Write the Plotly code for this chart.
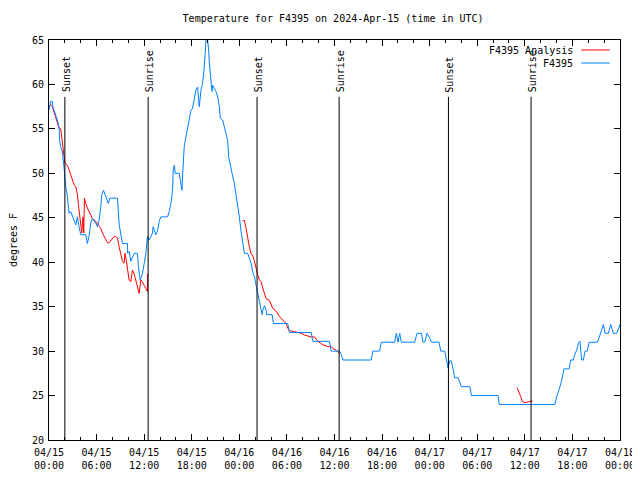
import plotly.graph_objects as go
import pandas as pd

TITLE = "Temperature for F4395 on 2024-Apr-15 (time in UTC)"
Y_LABEL = "degrees F"
OBS_NAME = "F4395"
ANL_NAME = "F4395 Analysis"

# Observed temperatures (F4395)
obs_time = [
    "2024-04-15 00:00", "2024-04-15 00:13", "2024-04-15 00:25", "2024-04-15 00:30", "2024-04-15 00:38",
    "2024-04-15 00:51", "2024-04-15 01:03", "2024-04-15 01:16", "2024-04-15 01:21", "2024-04-15 01:29",
    "2024-04-15 01:41", "2024-04-15 01:54", "2024-04-15 02:01", "2024-04-15 02:07", "2024-04-15 02:19",
    "2024-04-15 02:26", "2024-04-15 02:32", "2024-04-15 02:44", "2024-04-15 02:57", "2024-04-15 03:10",
    "2024-04-15 03:23", "2024-04-15 03:35", "2024-04-15 03:47", "2024-04-15 04:00", "2024-04-15 04:38",
    "2024-04-15 04:50", "2024-04-15 05:03", "2024-04-15 05:16", "2024-04-15 05:28", "2024-04-15 05:54",
    "2024-04-15 06:06", "2024-04-15 06:19", "2024-04-15 06:32", "2024-04-15 06:39", "2024-04-15 06:52",
    "2024-04-15 07:04", "2024-04-15 07:17", "2024-04-15 07:29", "2024-04-15 07:40", "2024-04-15 08:38",
    "2024-04-15 08:51", "2024-04-15 09:03", "2024-04-15 09:16", "2024-04-15 09:54", "2024-04-15 09:55",
    "2024-04-15 10:06", "2024-04-15 10:19", "2024-04-15 10:44", "2024-04-15 11:09", "2024-04-15 11:17",
    "2024-04-15 11:30", "2024-04-15 11:47", "2024-04-15 12:00", "2024-04-15 12:13", "2024-04-15 12:25",
    "2024-04-15 12:38", "2024-04-15 12:51", "2024-04-15 13:03", "2024-04-15 13:08", "2024-04-15 13:16",
    "2024-04-15 13:28", "2024-04-15 13:41", "2024-04-15 13:54", "2024-04-15 14:06", "2024-04-15 14:57",
    "2024-04-15 15:10", "2024-04-15 15:22", "2024-04-15 15:35", "2024-04-15 15:40", "2024-04-15 15:48",
    "2024-04-15 15:55", "2024-04-15 16:25", "2024-04-15 16:38", "2024-04-15 16:46", "2024-04-15 16:50",
    "2024-04-15 17:03", "2024-04-15 17:16", "2024-04-15 17:28", "2024-04-15 17:41", "2024-04-15 17:54",
    "2024-04-15 18:06", "2024-04-15 18:19", "2024-04-15 18:32", "2024-04-15 18:44", "2024-04-15 18:57",
    "2024-04-15 19:10", "2024-04-15 19:22", "2024-04-15 19:35", "2024-04-15 19:42", "2024-04-15 19:48",
    "2024-04-15 20:00", "2024-04-15 20:08", "2024-04-15 20:13", "2024-04-15 20:26", "2024-04-15 20:33",
    "2024-04-15 20:38", "2024-04-15 20:51", "2024-04-15 21:04", "2024-04-15 21:16", "2024-04-15 21:29",
    "2024-04-15 21:36", "2024-04-15 21:54", "2024-04-15 22:07", "2024-04-15 22:19", "2024-04-15 22:32",
    "2024-04-15 22:39", "2024-04-15 22:50", "2024-04-15 23:05", "2024-04-15 23:22", "2024-04-15 23:35",
    "2024-04-15 23:47", "2024-04-16 00:00", "2024-04-16 00:13", "2024-04-16 00:25", "2024-04-16 00:38",
    "2024-04-16 01:03", "2024-04-16 01:16", "2024-04-16 01:29", "2024-04-16 01:41", "2024-04-16 01:54",
    "2024-04-16 02:07", "2024-04-16 02:19", "2024-04-16 02:32", "2024-04-16 02:37", "2024-04-16 02:45",
    "2024-04-16 02:53", "2024-04-16 02:57", "2024-04-16 03:10", "2024-04-16 03:23", "2024-04-16 03:27",
    "2024-04-16 04:08", "2024-04-16 04:18", "2024-04-16 06:06", "2024-04-16 06:19", "2024-04-16 09:04",
    "2024-04-16 09:16", "2024-04-16 11:22", "2024-04-16 11:35", "2024-04-16 12:38", "2024-04-16 12:51",
    "2024-04-16 13:03", "2024-04-16 16:38", "2024-04-16 16:50", "2024-04-16 17:41", "2024-04-16 17:54",
    "2024-04-16 19:35", "2024-04-16 19:48", "2024-04-16 20:00", "2024-04-16 20:13", "2024-04-16 20:26",
    "2024-04-16 22:07", "2024-04-16 22:24", "2024-04-16 22:58", "2024-04-16 23:10", "2024-04-16 23:23",
    "2024-04-16 23:40", "2024-04-17 00:00", "2024-04-17 00:13", "2024-04-17 01:11", "2024-04-17 01:24",
    "2024-04-17 01:54", "2024-04-17 02:06", "2024-04-17 02:19", "2024-04-17 02:32", "2024-04-17 02:44",
    "2024-04-17 02:57", "2024-04-17 03:10", "2024-04-17 03:35", "2024-04-17 03:48", "2024-04-17 04:00",
    "2024-04-17 05:04", "2024-04-17 05:16", "2024-04-17 08:38", "2024-04-17 08:46", "2024-04-17 15:48",
    "2024-04-17 16:01", "2024-04-17 16:26", "2024-04-17 16:39", "2024-04-17 16:56", "2024-04-17 17:36",
    "2024-04-17 17:47", "2024-04-17 18:07", "2024-04-17 18:20", "2024-04-17 18:32", "2024-04-17 18:45",
    "2024-04-17 18:57", "2024-04-17 19:10", "2024-04-17 19:23", "2024-04-17 19:35", "2024-04-17 19:53",
    "2024-04-17 20:06", "2024-04-17 21:09", "2024-04-17 21:24", "2024-04-17 21:34", "2024-04-17 21:54",
    "2024-04-17 22:07", "2024-04-17 22:32", "2024-04-17 22:50", "2024-04-17 23:10", "2024-04-17 23:36",
    "2024-04-18 00:00",
]
obs_temp = [
    57.1, 58.1, 58.1, 57.4, 57.1,
    56.6, 56.0, 55.2, 53.6, 53.0,
    52.4, 50.6, 49.1, 48.5, 47.4,
    46.3, 45.5, 45.7, 45.1, 44.7,
    44.2, 45.1, 44.0, 43.1, 43.1,
    42.1, 42.9, 44.4, 44.9, 44.4,
    44.0, 44.7, 46.3, 47.6, 48.1,
    47.6, 47.2, 46.6, 47.2, 47.2,
    44.2, 43.3, 42.1, 42.1, 41.0,
    41.2, 40.1, 41.0, 41.0, 39.5,
    38.0, 38.7, 40.0, 41.0, 42.9,
    42.5, 42.9, 43.3, 44.0, 43.6,
    43.1, 43.5, 44.6, 45.1, 45.1,
    45.7, 46.6, 48.1, 50.4, 50.9,
    50.0, 50.0, 48.9, 48.1, 49.6,
    53.0, 54.1, 55.2, 56.0, 57.1,
    57.3, 58.4, 59.4, 59.7, 57.5,
    59.4, 60.1, 62.0, 63.9, 65.0,
    65.0, 63.9, 62.4, 60.1, 59.2,
    59.9, 59.6, 59.2, 58.6, 57.5,
    56.2, 56.0, 55.2, 54.5, 53.7,
    51.9, 50.9, 50.0, 48.9, 47.7,
    46.6, 45.1, 43.5, 42.1, 41.0,
    41.0, 40.4, 39.9, 38.9, 38.4,
    37.4, 36.5, 35.7, 35.0, 34.6,
    34.1, 34.6, 35.1, 34.6, 34.1,
    34.1, 33.1, 33.1, 32.1, 32.1,
    31.1, 31.1, 30.0, 30.0, 29.6,
    29.0, 29.0, 30.0, 30.0, 31.0,
    31.0, 32.0, 31.0, 32.0, 31.0,
    31.0, 32.0, 32.0, 31.0, 31.0,
    32.0, 31.5, 31.0, 31.0, 30.0,
    30.0, 29.2, 28.1, 28.9, 28.9,
    28.0, 27.0, 27.0, 26.5, 26.0,
    26.0, 25.0, 25.0, 24.0, 24.0,
    24.9, 26.0, 26.7, 28.0, 28.0,
    29.0, 29.0, 29.7, 30.1, 30.9,
    31.1, 29.0, 29.0, 30.0, 30.0,
    31.0, 31.0, 31.6, 32.0, 33.0,
    32.0, 32.0, 33.0, 32.0, 32.0,
    33.0,
]

# Analysis temperatures (F4395 Analysis), three separate runs
anl1_time = [
    "2024-04-15 00:00", "2024-04-15 00:13", "2024-04-15 00:25", "2024-04-15 00:38", "2024-04-15 00:51",
    "2024-04-15 01:03", "2024-04-15 01:16", "2024-04-15 01:29", "2024-04-15 01:36", "2024-04-15 01:46",
    "2024-04-15 01:54", "2024-04-15 02:01", "2024-04-15 02:19", "2024-04-15 02:32", "2024-04-15 02:44",
    "2024-04-15 02:57", "2024-04-15 03:10", "2024-04-15 03:23", "2024-04-15 03:35", "2024-04-15 03:43",
    "2024-04-15 03:53", "2024-04-15 04:00", "2024-04-15 04:08", "2024-04-15 04:13", "2024-04-15 04:18",
    "2024-04-15 04:23", "2024-04-15 04:28", "2024-04-15 04:38", "2024-04-15 04:50", "2024-04-15 05:16",
    "2024-04-15 05:28", "2024-04-15 05:54", "2024-04-15 06:19", "2024-04-15 06:32", "2024-04-15 06:44",
    "2024-04-15 07:09", "2024-04-15 07:22", "2024-04-15 07:35", "2024-04-15 08:00", "2024-04-15 08:13",
    "2024-04-15 08:25", "2024-04-15 08:38", "2024-04-15 08:51", "2024-04-15 09:03", "2024-04-15 09:16",
    "2024-04-15 09:28", "2024-04-15 09:35", "2024-04-15 09:45", "2024-04-15 09:53", "2024-04-15 10:06",
    "2024-04-15 10:19", "2024-04-15 10:31", "2024-04-15 10:44", "2024-04-15 10:57", "2024-04-15 11:09",
    "2024-04-15 11:22", "2024-04-15 11:35", "2024-04-15 11:47", "2024-04-15 12:00", "2024-04-15 12:13",
    "2024-04-15 12:25", "2024-04-15 12:26",
]
anl1_temp = [
    57.5, 57.7, 57.5, 56.9, 56.4,
    55.8, 55.1, 55.0, 53.9, 53.2,
    51.9, 51.1, 50.9, 50.4, 49.8,
    49.2, 48.7, 48.5, 47.6, 46.4,
    45.1, 44.4, 43.3, 44.4, 45.1,
    43.3, 47.2, 46.6, 46.1, 45.3,
    44.9, 44.6, 44.0, 43.8, 43.3,
    42.5, 42.2, 42.2, 42.6, 42.9,
    42.9, 42.7, 41.7, 40.8, 40.1,
    39.9, 41.0, 40.2, 39.1, 38.0,
    37.8, 39.1, 38.7, 38.0, 37.4,
    36.5, 38.0, 37.8, 37.4, 37.1,
    36.7, 38.7,
]
anl2_time = [
    "2024-04-16 00:25", "2024-04-16 00:38", "2024-04-16 00:51", "2024-04-16 01:03", "2024-04-16 01:16",
    "2024-04-16 01:29", "2024-04-16 01:41", "2024-04-16 01:54", "2024-04-16 02:07", "2024-04-16 02:19",
    "2024-04-16 02:32", "2024-04-16 02:45", "2024-04-16 02:57", "2024-04-16 03:10", "2024-04-16 03:23",
    "2024-04-16 03:48", "2024-04-16 04:00", "2024-04-16 04:13", "2024-04-16 04:38", "2024-04-16 04:51",
    "2024-04-16 05:03", "2024-04-16 05:28", "2024-04-16 05:41", "2024-04-16 05:54", "2024-04-16 06:06",
    "2024-04-16 06:19", "2024-04-16 06:57", "2024-04-16 07:22", "2024-04-16 07:48", "2024-04-16 08:13",
    "2024-04-16 09:04", "2024-04-16 09:29", "2024-04-16 09:42", "2024-04-16 09:54", "2024-04-16 10:32",
    "2024-04-16 11:10", "2024-04-16 11:35", "2024-04-16 11:47", "2024-04-16 12:13", "2024-04-16 12:25",
    "2024-04-16 12:38",
]
anl2_temp = [
    44.7, 44.7, 43.8, 42.5, 41.7,
    40.9, 40.8, 40.1, 39.1, 38.6,
    38.0, 37.8, 37.1, 36.5, 35.9,
    35.7, 35.2, 34.8, 34.5, 34.2,
    33.9, 33.5, 33.3, 33.1, 32.6,
    32.3, 32.2, 32.1, 32.0, 31.8,
    31.6, 31.6, 31.3, 31.1, 30.7,
    30.5, 30.5, 30.3, 30.1, 29.9,
    29.75,
]
anl3_time = [
    "2024-04-17 11:02", "2024-04-17 11:17", "2024-04-17 11:28", "2024-04-17 11:43", "2024-04-17 12:00",
    "2024-04-17 12:26", "2024-04-17 12:59",
]
anl3_temp = [25.9, 25.4, 24.9, 24.3, 24.2, 24.3, 24.4]

# Sunrise / sunset markers
sun_time = [
    "2024-04-15 02:00", "2024-04-15 12:30", "2024-04-16 02:14", "2024-04-16 12:35",
    "2024-04-17 02:22", "2024-04-17 12:47",
]
sun_label = ["Sunset", "Sunrise", "Sunset", "Sunrise", "Sunset", "Sunrise"]

X_RANGE = ["2024-04-15 00:00", "2024-04-18 00:00"]
Y_RANGE = [20, 65]
Y_TICKS = [20, 25, 30, 35, 40, 45, 50, 55, 60, 65]

RED = "#ff0000"
BLUE = "#0080ff"
FONT = "DejaVu Sans Mono"

anl_time = anl1_time + [None] + anl2_time + [None] + anl3_time
anl_temp = anl1_temp + [None] + anl2_temp + [None] + anl3_temp

fig = go.Figure()
fig.add_trace(go.Scatter(
    x=pd.to_datetime(pd.Series(anl_time)), y=anl_temp, mode="lines", name=ANL_NAME,
    line=dict(color=RED, width=1), connectgaps=False, showlegend=False,
))
fig.add_trace(go.Scatter(
    x=pd.to_datetime(pd.Series(obs_time)), y=obs_temp, mode="lines", name=OBS_NAME,
    line=dict(color=BLUE, width=1), showlegend=False,
))

for t, lab in zip(sun_time, sun_label):
    fig.add_shape(type="line", xref="x", yref="y", x0=t, x1=t, y0=20, y1=58.6,
                  line=dict(color="black", width=1))
    fig.add_annotation(x=t, y=58.9, xref="x", yref="y", text=lab, textangle=-90,
                       showarrow=False, xanchor="center", yanchor="bottom",
                       xshift=1, font=dict(family=FONT, size=10, color="black"))

# Legend drawn gnuplot-style (text then line sample)
legend_items = [(ANL_NAME, RED, 0.975), (OBS_NAME, BLUE, 0.9425)]
for name, col, yy in legend_items:
    fig.add_annotation(x=0.921, y=yy, xref="paper", yref="paper", text=name,
                       showarrow=False, xanchor="right", yanchor="middle",
                       font=dict(family=FONT, size=10, color="black"))
    fig.add_shape(type="line", xref="paper", yref="paper", x0=0.932, x1=0.982,
                  y0=yy, y1=yy, line=dict(color=col, width=1))

fig.update_layout(
    width=640, height=480,
    margin=dict(l=41, r=28, t=32, b=48, autoexpand=False),
    paper_bgcolor="white", plot_bgcolor="white",
    font=dict(family=FONT, size=10, color="black"),
    title=dict(text=TITLE, x=0.508, xanchor="center", y=0.979, yanchor="middle",
               font=dict(family=FONT, size=10, color="black")),
    showlegend=False,
)
fig.update_xaxes(
    range=X_RANGE, type="date", showgrid=False, zeroline=False, automargin=False,
    showline=True, linecolor="black", linewidth=1, mirror="ticks",
    ticks="inside", ticklen=6, tickcolor="black", dtick=6 * 3600 * 1000,
    tick0="2024-04-15 00:00", tickformat="%m/%d<br>%H:%M", ticklabelstandoff=3,
    minor=dict(dtick=2 * 3600 * 1000, ticks="inside", ticklen=3, tickcolor="black", showgrid=False),
    tickfont=dict(family=FONT, size=10),
)
fig.update_yaxes(
    range=Y_RANGE, tickvals=Y_TICKS, showgrid=False, zeroline=False, automargin=False,
    showline=True, linecolor="black", linewidth=1, mirror="ticks",
    ticks="inside", ticklen=6, tickcolor="black", ticklabelstandoff=2,
    title=dict(text=Y_LABEL, standoff=17, font=dict(family=FONT, size=10)),
    tickfont=dict(family=FONT, size=10),
)

fig.write_html("out.html")
